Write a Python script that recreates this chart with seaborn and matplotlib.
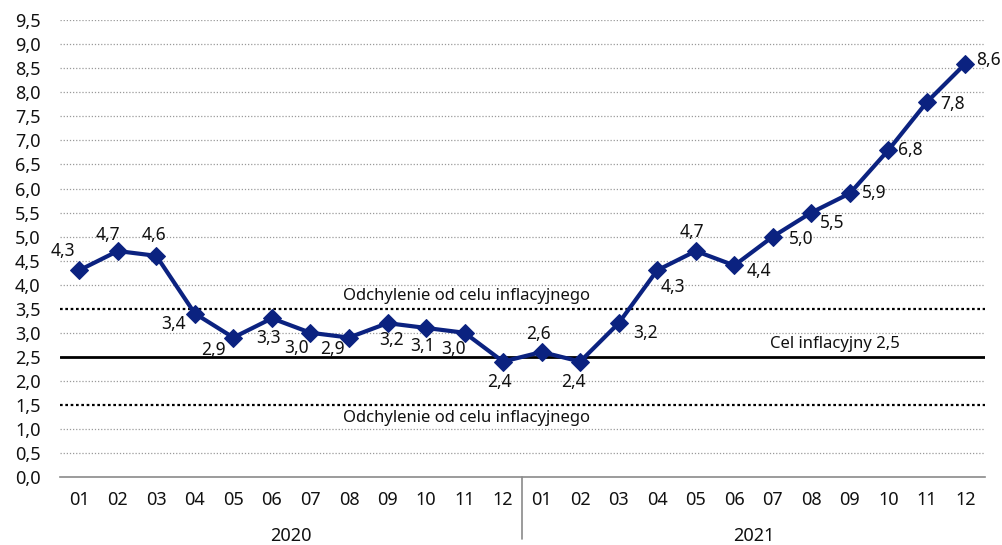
import numpy as np
import pandas as pd
import matplotlib.pyplot as plt
import seaborn as sns

# Data: CPI y/y (%) by month
months = ['01', '02', '03', '04', '05', '06', '07', '08', '09', '10', '11', '12'] * 2
years = ['2020', '2021']
cpi = [4.3, 4.7, 4.6, 3.4, 2.9, 3.3, 3.0, 2.9, 3.2, 3.1, 3.0, 2.4,
       2.6, 2.4, 3.2, 4.3, 4.7, 4.4, 5.0, 5.5, 5.9, 6.8, 7.8, 8.6]
target = 2.5
band = [1.5, 3.5]
target_label = 'Cel inflacyjny 2,5'
band_label = 'Odchylenie od celu inflacyjnego'

# label offsets in pixels from the marker (style only)
offs = [(-16, 19), (-10, 16), (-2, 21), (-21, -10), (-20, -12), (-3, -20), (-14, -15), (-17, -11),
        (4, -17), (-4, -18), (-11, -16), (-4, -20),
        (-3, 18), (-7, -20), (27, -10), (16, -17), (-4, 19), (25, -6), (28, -2), (21, -10),
        (24, 0), (22, 0), (26, -2), (23, 4)]

df = pd.DataFrame({'x': np.arange(len(cpi)), 'cpi': cpi})

sns.set_theme(style='white')
plt.rcParams['font.family'] = ['Noto Sans', 'DejaVu Sans']

fig = plt.figure(figsize=(10.03, 5.45), dpi=100)
ax = fig.add_axes([0.0598, 0.1248, 0.922, 0.838])

navy = '#0b2280'
txt = '#111111'

for y in np.arange(0, 10, 0.5):
    if y in band or y == target or y == 0:
        continue
    ax.axhline(y, color='#9a9a9a', lw=0.9, ls=(0, (1, 1.5)), zorder=1)
for y in band:
    ax.axhline(y, color='black', lw=1.6, ls=(0, (1.2, 1.2)), zorder=1)
ax.axhline(target, color='black', lw=2.0, zorder=1)

sns.lineplot(data=df, x='x', y='cpi', color=navy, lw=3, marker='D', markersize=9.5,
             markeredgecolor=navy, ax=ax, zorder=3)

for i, v in enumerate(cpi):
    dx, dy = offs[i]
    ax.annotate(f'{v:.1f}'.replace('.', ','), (i, v), xytext=(dx * 0.72, dy * 0.72),
                textcoords='offset points', ha='center', va='center', fontsize=12.5, color=txt)

ax.text(10.06, 3.6, band_label, ha='center', va='bottom', fontsize=12, color=txt)
ax.text(10.06, 1.4, band_label, ha='center', va='top', fontsize=12, color=txt)
ax.text(19.6, 2.6, target_label, ha='center', va='bottom', fontsize=12, color=txt)

ax.set_xlim(-0.5, len(cpi) - 0.5)
ax.set_ylim(0, 9.5)
yt = np.arange(0, 9.6, 0.5)
ax.set_yticks(yt)
ax.set_yticklabels([f'{t:.1f}'.replace('.', ',') for t in yt], fontsize=13, color=txt)
ax.set_xticks(np.arange(len(cpi)))
ax.set_xticklabels(months, fontsize=13, color=txt)
ax.set_xticks(np.arange(-0.5, len(cpi), 1), minor=True)
ax.tick_params(axis='x', which='major', length=0, pad=10)
ax.tick_params(axis='x', which='minor', length=6, color='#8a8a8a', width=1.2, direction='out')
ax.tick_params(axis='y', length=0, pad=14)
ax.set_xlabel('')
ax.set_ylabel('')

for s in ['top', 'right', 'left']:
    ax.spines[s].set_visible(False)
ax.spines['bottom'].set_color('#8a8a8a')
ax.spines['bottom'].set_linewidth(1.2)

# year separator and year labels
ax.plot([11.5, 11.5], [0, -1.28], color='#8a8a8a', lw=1.2, clip_on=False)
for k, yr in enumerate(years):
    ax.text(5.5 + 12 * k, -1.22, yr, ha='center', va='center', fontsize=13, color=txt)

fig.savefig('out.png', dpi=100)
